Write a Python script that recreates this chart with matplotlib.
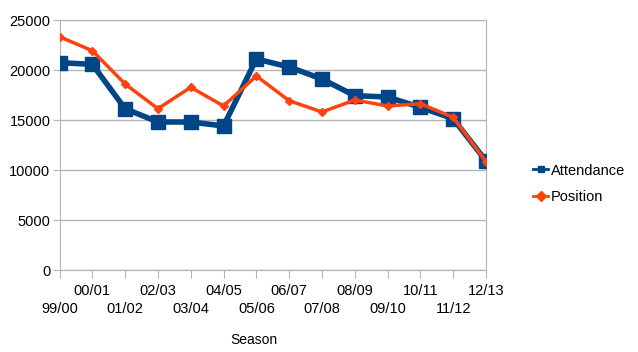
import matplotlib
matplotlib.use("Agg")
import matplotlib.pyplot as plt

seasons = ["99/00", "00/01", "01/02", "02/03", "03/04", "04/05", "05/06",
           "06/07", "07/08", "08/09", "09/10", "10/11", "11/12", "12/13"]
attendance = [20730, 20570, 16130, 14800, 14800, 14400, 21100,
              20300, 19100, 17430, 17300, 16270, 15130, 10900]
position = [23330, 21930, 18600, 16130, 18270, 16400, 19400,
            16930, 15800, 17000, 16400, 16630, 15270, 10830]

plt.rcParams["font.family"] = ["Liberation Sans", "DejaVu Sans"]
plt.rcParams["font.size"] = 10

fig = plt.figure(figsize=(6.38, 3.52), dpi=100)
ax = fig.add_axes([59.5 / 638, 1 - 270 / 352, (486 - 59.5) / 638, 250 / 352])

x = list(range(len(seasons)))
ax.plot(x, attendance, color="#004586", linewidth=4, marker="s", markersize=10,
        label="Attendance", zorder=3)
ax.plot(x, position, color="#ff420e", linewidth=2.5, marker="D", markersize=4.5,
        label="Position", zorder=4)

ax.set_xlim(0, len(seasons) - 1)
ax.set_ylim(0, 25000)
ax.set_yticks(range(0, 25001, 5000))
ax.grid(axis="y", color="#b3b3b3", linewidth=1)
ax.set_axisbelow(True)
for s in ax.spines.values():
    s.set_color("#b3b3b3")
ax.tick_params(axis="both", color="#b3b3b3", length=6, labelsize=10.5)
ax.tick_params(axis="y", length=5, pad=1.5)

ax.set_xticks(x)
ax.set_xticklabels(seasons)
for i, tick in enumerate(ax.xaxis.get_major_ticks()):
    tick.set_pad(17 if i % 2 == 0 else 4)

ax.text(0.455, -0.28, "Season", transform=ax.transAxes, ha="center", va="center",
        fontsize=10)

leg = ax.legend(loc="center left", bbox_to_anchor=(1.08, 0.345), frameon=False,
                fontsize=10.5, handlelength=1.0, handletextpad=0.2, labelspacing=0.85)
for h in leg.legend_handles:
    h.set_markersize(5)
    h.set_linewidth(2)

fig.savefig("out.png", dpi=100)
